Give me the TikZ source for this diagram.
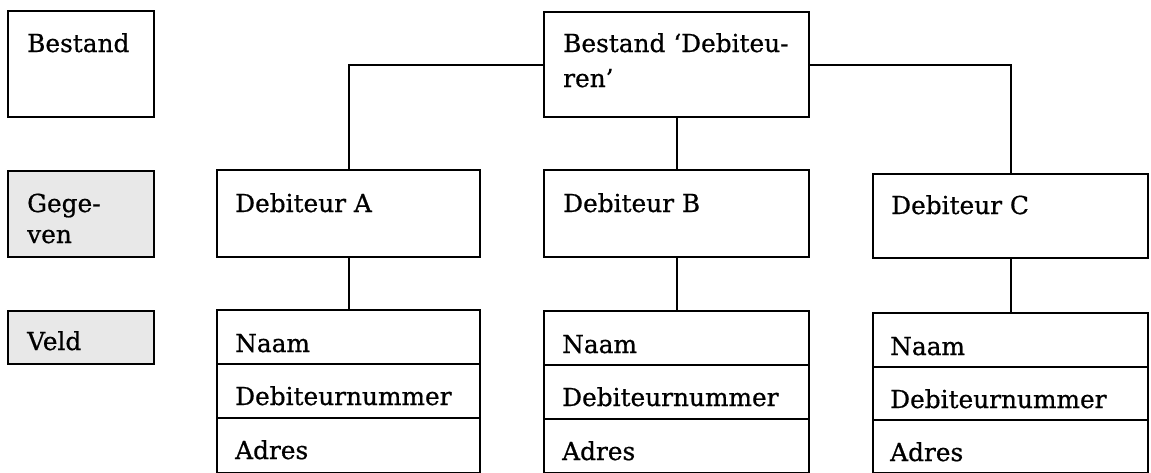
\documentclass[tikz,border=0pt]{standalone}
\usepackage{fontspec}
\setmainfont[FakeBold=0.7]{DejaVu Serif}
\begin{document}
\begin{tikzpicture}[x=1pt,y=-1pt,
  box/.style={draw, line width=2.1pt, inner sep=0pt, anchor=north west},
  shaded/.style={box, fill=black!9},
  lbl/.style={anchor=base west, inner sep=0pt, font=\fontsize{24.8}{35}\selectfont},
  conn/.style={line width=2.1pt}]
\useasboundingbox (0,0) rectangle (1151,472);
\clip (0,0) rectangle (1151,472);
% legend column
\node[box, minimum width=146, minimum height=106] (lbestand) at (7,10) {};
\node[lbl] (tbestand) at (27,52) {Bestand};
\node[shaded, minimum width=146, minimum height=86] (lgegeven) at (7,170) {};
\node[lbl] (tgege) at (27,212) {Gege-};
\node[lbl] (tven) at (27,243) {ven};
\node[shaded, minimum width=146, minimum height=53] (lveld) at (7,310) {};
\node[lbl] (tveld) at (27,350) {Veld};
% top file box
\node[box, minimum width=265, minimum height=105] (top) at (543,11) {};
\node[lbl] (ttop1) at (563,52) {Bestand ‘Debiteu-};
\node[lbl] (ttop2) at (563,87) {ren’};
% debiteur boxes
\node[box, minimum width=263, minimum height=87] (da) at (216,169) {};
\node[lbl] (tda) at (235,212) {Debiteur A};
\node[box, minimum width=265, minimum height=87] (db) at (543,169) {};
\node[lbl] (tdb) at (563,212) {Debiteur B};
\node[box, minimum width=275, minimum height=84] (dc) at (872,173) {};
\node[lbl] (tdc) at (891,214) {Debiteur C};
% field boxes A
\node[box, minimum width=263, minimum height=54] (fa1) at (216,309) {};
\node[box, minimum width=263, minimum height=54] (fa2) at (216,363) {};
\node[box, minimum width=263, minimum height=55] (fa3) at (216,417) {};
\node[lbl] (tfa1) at (235,352) {Naam};
\node[lbl] (tfa2) at (235,405) {Debiteurnummer};
\node[lbl] (tfa3) at (235,459) {Adres};
% field boxes B
\node[box, minimum width=265, minimum height=54] (fb1) at (543,310) {};
\node[box, minimum width=265, minimum height=54] (fb2) at (543,364) {};
\node[box, minimum width=265, minimum height=54] (fb3) at (543,418) {};
\node[lbl] (tfb1) at (562,353) {Naam};
\node[lbl] (tfb2) at (562,406) {Debiteurnummer};
\node[lbl] (tfb3) at (562,460) {Adres};
% field boxes C
\node[box, minimum width=275, minimum height=54] (fc1) at (872,312) {};
\node[box, minimum width=275, minimum height=53] (fc2) at (872,366) {};
\node[box, minimum width=275, minimum height=53] (fc3) at (872,419) {};
\node[lbl] (tfc1) at (890,355) {Naam};
\node[lbl] (tfc2) at (890,408) {Debiteurnummer};
\node[lbl] (tfc3) at (890,461) {Adres};
% connectors
\draw[conn] (top.west) -| (da.north);
\draw[conn] (top.east) -| (dc.north);
\draw[conn] (top.south) -- (db.north);
\draw[conn] (da.south) -- (fa1.north);
\draw[conn] (db.south) -- (fb1.north);
\draw[conn] (dc.south) -- (fc1.north);
\end{tikzpicture}
\end{document}
